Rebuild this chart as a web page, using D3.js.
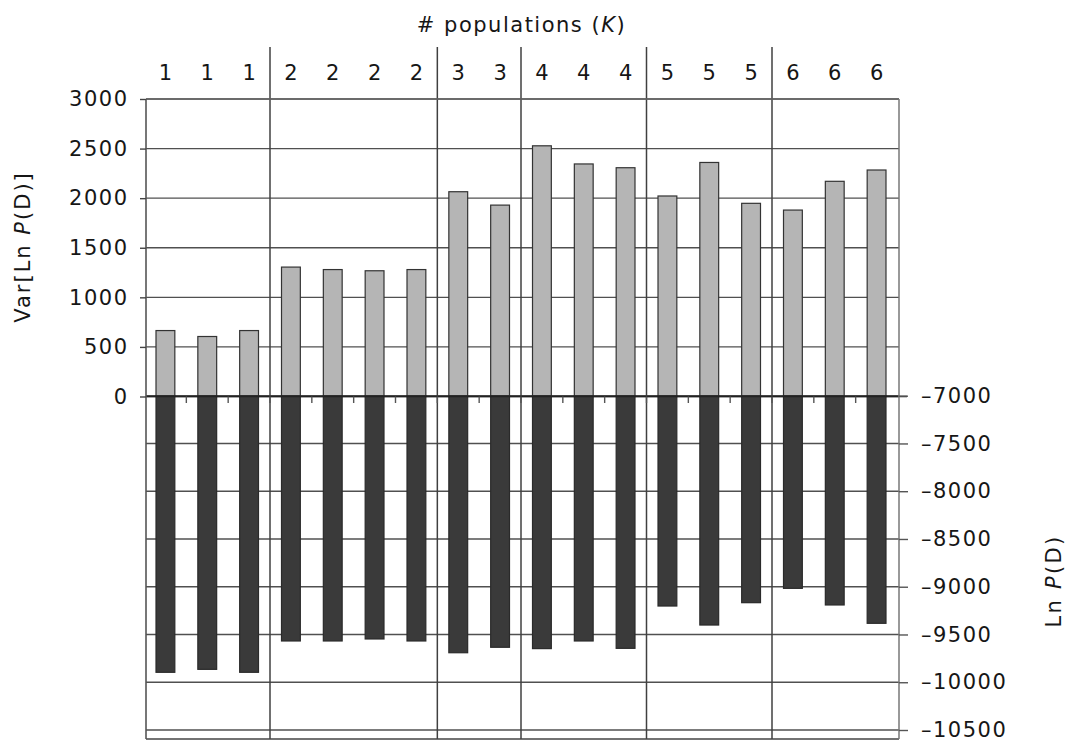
<!DOCTYPE html>
<html>
<head>
<meta charset="utf-8">
<script src="https://cdn.jsdelivr.net/npm/d3@7"></script>
<style>
  html, body { margin: 0; padding: 0; background: #fff; }
  svg { display: block; }
  text { font-family: "DejaVu Sans", "Liberation Sans", Arial, sans-serif; font-size: 21px; letter-spacing: 1.5px; fill: #161616; }
</style>
</head>
<body>
<svg id="chart" width="1075" height="744"></svg>
<script>
// ---- data ----
const groupLabels = ["1","1","1","2","2","2","2","3","3","4","4","4","5","5","5","6","6","6"];
const varLnP = [665, 605, 665, 1305, 1280, 1268, 1280, 2065, 1930, 2528, 2345, 2307, 2022, 2360, 1948, 1880, 2170, 2284];
const lnP = [-9896, -9865, -9896, -9568, -9568, -9547, -9568, -9691, -9634, -9648, -9568, -9645, -9202, -9401, -9167, -9017, -9191, -9383];
const leftTicks = [0, 500, 1000, 1500, 2000, 2500, 3000];
const rightTicks = [-7000, -7500, -8000, -8500, -9000, -9500, -10000, -10500];

// ---- layout ----
const svg = d3.select("#chart");
const plotL = 146, plotR = 899, plotT = 99, plotB = 739;
const idx = d3.range(groupLabels.length);

const x = d3.scaleBand().domain(idx).range([plotL - 1.5, plotR - 1.5]).paddingInner(0.55).paddingOuter(0.275);
const yL = d3.scaleLinear().domain([0, 3000]).range([396.5, plotT]);
const yR = d3.scaleLinear().domain([-7000, -10500]).range([395.7, 730]);
const step = x.step();
const gap = (step - x.bandwidth()) / 2;
const gridColor = "#505050";

// horizontal grid lines (left axis)
svg.append("g").selectAll("line").data(leftTicks).join("line")
  .attr("x1", plotL).attr("x2", plotR)
  .attr("y1", d => yL(d)).attr("y2", d => yL(d))
  .attr("stroke", gridColor).attr("stroke-width", 1.4);
// horizontal grid lines (right axis)
svg.append("g").selectAll("line").data(rightTicks).join("line")
  .attr("x1", plotL).attr("x2", plotR)
  .attr("y1", d => yR(d)).attr("y2", d => yR(d))
  .attr("stroke", gridColor).attr("stroke-width", 1.4);

// group separators
const sepIdx = idx.filter(i => i > 0 && groupLabels[i] !== groupLabels[i - 1]);
svg.append("g").selectAll("line").data(sepIdx).join("line")
  .attr("x1", i => x(i) - gap).attr("x2", i => x(i) - gap)
  .attr("y1", 47).attr("y2", plotB)
  .attr("stroke", "#404040").attr("stroke-width", 1.5);

// light bars: Var[Ln P(D)]
svg.append("g").selectAll("rect").data(idx).join("rect")
  .attr("x", i => x(i)).attr("width", x.bandwidth())
  .attr("y", i => yL(varLnP[i])).attr("height", i => yL(0) - yL(varLnP[i]))
  .attr("fill", "#b5b5b5").attr("stroke", "#333").attr("stroke-width", 1.2);

// dark bars: Ln P(D)
svg.append("g").selectAll("rect").data(idx).join("rect")
  .attr("x", i => x(i)).attr("width", x.bandwidth())
  .attr("y", yR(-7000)).attr("height", i => yR(lnP[i]) - yR(-7000))
  .attr("fill", "#3a3a3a").attr("stroke", "#2a2a2a").attr("stroke-width", 1.2);

// zero line
svg.append("line").attr("x1", plotL).attr("x2", plotR + 8)
  .attr("y1", yL(0)).attr("y2", yL(0)).attr("stroke", "#222").attr("stroke-width", 1.6);

// small category ticks below zero line
svg.append("g").selectAll("line").data(idx.slice(1)).join("line")
  .attr("x1", i => x(i) - gap).attr("x2", i => x(i) - gap)
  .attr("y1", yL(0)).attr("y2", yL(0) + 6.5)
  .attr("stroke", "#555").attr("stroke-width", 1.4);

// frame
svg.append("line").attr("x1", plotL).attr("x2", plotR).attr("y1", plotT).attr("y2", plotT).attr("stroke", "#666").attr("stroke-width", 1.5);
svg.append("line").attr("x1", plotL).attr("x2", plotR).attr("y1", plotB).attr("y2", plotB).attr("stroke", "#444").attr("stroke-width", 1.5);
svg.append("line").attr("x1", plotL).attr("x2", plotL).attr("y1", plotT).attr("y2", plotB).attr("stroke", "#555").attr("stroke-width", 1.6);
svg.append("line").attr("x1", plotR).attr("x2", plotR).attr("y1", plotT).attr("y2", plotB).attr("stroke", "#777").attr("stroke-width", 1.5);

// left axis
const axL = d3.axisLeft(yL).tickValues(leftTicks).tickSize(6).tickPadding(13).tickFormat(d3.format("d"));
const gL = svg.append("g").attr("transform", `translate(${plotL},0)`).call(axL);
gL.select(".domain").remove();
gL.selectAll(".tick line").attr("stroke", "#444").attr("stroke-width", 1.4);
gL.selectAll(".tick text").attr("font-size", null).attr("font-family", null).attr("fill", null)
  .attr("dx", "1.5px");

// right axis
const axR = d3.axisRight(yR).tickValues(rightTicks).tickSize(9).tickPadding(13)
  .tickFormat(d => "\u2013" + Math.abs(d));
const gR = svg.append("g").attr("transform", `translate(${plotR},0)`).call(axR);
gR.select(".domain").remove();
gR.selectAll(".tick line").attr("stroke", "#555").attr("stroke-width", 1.4);
gR.selectAll(".tick text").attr("font-size", null).attr("font-family", null).attr("fill", null);

// top category labels
svg.append("g").selectAll("text").data(idx).join("text")
  .attr("x", i => x(i) + x.bandwidth() / 2 + 0.75)
  .attr("y", 79.5)
  .attr("text-anchor", "middle")
  .text(i => groupLabels[i]);

// title
const title = svg.append("text").attr("x", 521.5).attr("y", 31.5).attr("text-anchor", "middle");
title.append("tspan").text("# populations (");
title.append("tspan").attr("font-style", "italic").text("K");
title.append("tspan").text(")");

// left y label
const yl = svg.append("text").attr("transform", "translate(29.5,247) rotate(-90)").attr("text-anchor", "middle")
  .style("letter-spacing", "2px");
yl.append("tspan").text("Var[Ln ");
yl.append("tspan").attr("font-style", "italic").text("P");
yl.append("tspan").text("(D)]");

// right y label
const yr = svg.append("text").attr("transform", "translate(1061,581) rotate(-90)").attr("text-anchor", "middle")
  .style("letter-spacing", "2.3px");
yr.append("tspan").text("Ln ");
yr.append("tspan").attr("font-style", "italic").text("P");
yr.append("tspan").text("(D)");
</script>
</body>
</html>
